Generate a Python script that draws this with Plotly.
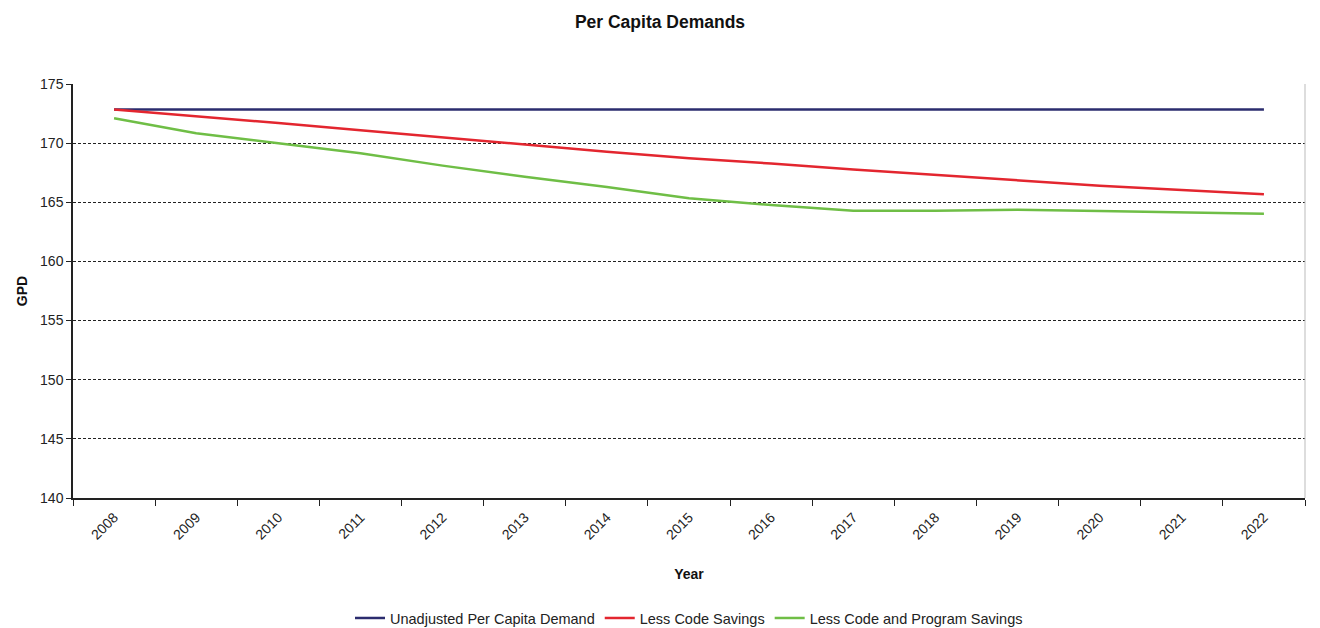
import plotly.graph_objects as go

years = [str(y) for y in range(2008, 2023)]
unadjusted = [172.85] * 15
less_code = [172.85, 172.3, 171.7, 171.08, 170.47, 169.86, 169.28, 168.72, 168.28, 167.77,
             167.3, 166.83, 166.4, 166.04, 165.67]
less_code_program = [172.1, 170.83, 169.99, 169.14, 168.1, 167.16, 166.3, 165.34, 164.77, 164.28,
                     164.29, 164.37, 164.26, 164.12, 164.04]
y_ticks = [140, 145, 150, 155, 160, 165, 170, 175]

FONT = "Liberation Sans, Arial, sans-serif"

# page body has an 8px margin; size the figure to fill the 1320x628 window
W, H = 1304, 620

fig = go.Figure()
fig.add_trace(go.Scatter(x=years, y=unadjusted, mode="lines", name="Unadjusted Per Capita Demand",
                         line=dict(color="#2b2c6e", width=2.5)))
fig.add_trace(go.Scatter(x=years, y=less_code, mode="lines", name="Less Code Savings",
                         line=dict(color="#e3262f", width=2.5)))
fig.add_trace(go.Scatter(x=years, y=less_code_program, mode="lines", name="Less Code and Program Savings",
                         line=dict(color="#6fbe46", width=2.5)))

fig.update_layout(
    width=W, height=H,
    margin=dict(l=65, r=7, t=76, b=130, autoexpand=False),
    paper_bgcolor="white", plot_bgcolor="white",
    font=dict(family=FONT, size=14, color="#222"),
    title=dict(text="<b>Per Capita Demands</b>", x=0.5, xanchor="center", y=1 - 14 / H, yanchor="middle",
               xref="container", yref="container", font=dict(size=17.5, color="#111")),
    showlegend=True,
    legend=dict(orientation="h", x=0.5, xanchor="center", y=-0.29, yanchor="middle",
                font=dict(size=14.5, color="#222"), itemwidth=30, tracegroupgap=0),
    xaxis=dict(type="category", range=[-0.5, 14.5], tickangle=-45, ticks="outside", ticklen=6,
               tickson="boundaries", tickcolor="#222", showline=True, linecolor="#222", linewidth=1.5,
               showgrid=False, tickfont=dict(size=14), automargin=False, ticklabelstandoff=4,
               title=dict(text="<b>Year</b>", font=dict(size=14, color="#111"), standoff=28)),
    yaxis=dict(range=[140, 175], tickvals=y_ticks, ticks="outside", ticklen=5, tickcolor="#222",
               showline=True, linecolor="#222", linewidth=1.5, zeroline=False,
               showgrid=True, gridcolor="#222", gridwidth=1, griddash="3px,2px",
               tickfont=dict(size=14), automargin=False,
               title=dict(text="<b>GPD</b>", font=dict(size=14, color="#111"), standoff=9)),
)
fig.add_shape(type="line", xref="paper", yref="paper", x0=1, x1=1, y0=0, y1=1,
              line=dict(color="#bbbbbb", width=1))

fig.write_html("out.html")
